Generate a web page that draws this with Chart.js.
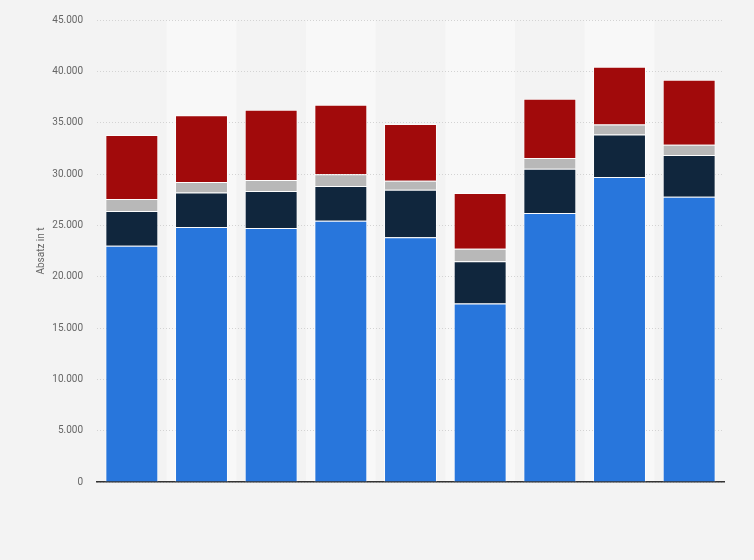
<!DOCTYPE html>
<html>
<head>
<meta charset="utf-8">
<script src="https://cdn.jsdelivr.net/npm/chart.js@4/dist/chart.umd.min.js"></script>
<style>
    html, body { margin: 0; padding: 0; background: #f3f3f3; }
    #wrap { width: 754px; height: 560px; }
</style>
</head>
<body>
<div id="wrap"><canvas id="salesChart" width="754" height="560"></canvas></div>
<script>
// categories (no labels shown in the original)
let categories = ["1", "2", "3", "4", "5", "6", "7", "8", "9"];
// stacked series, in t
let seriesBlue = [23000, 24830, 24730, 25450, 23850, 17380, 26190, 29710, 27790];
let seriesNavy = [3390, 3380, 3610, 3380, 4620, 4130, 4330, 4130, 4070];
let seriesGray = [1170, 1010, 1070, 1140, 880, 1200, 1040, 980, 1000];
let seriesRed = [6250, 6510, 6840, 6770, 5530, 5440, 5760, 5630, 6320];
let yTicks = [0, 5000, 10000, 15000, 20000, 25000, 30000, 35000, 40000, 45000];

function fmt(v) {
    return String(v).replace(/\B(?=(\d{3})+(?!\d))/g, ".");
}

// lighter band behind every second column
let bandPlugin = {
    id: "bands",
    beforeDraw: function(chart) {
        let ctx = chart.ctx;
        let area = chart.chartArea;
        let step = (area.right - area.left) / categories.length;
        ctx.save();
        ctx.fillStyle = "#f8f8f8";
        for (let i = 1; i < categories.length; i += 2) {
            ctx.fillRect(area.left + i * step, area.top, step, area.bottom - area.top);
        }
        ctx.restore();
    }
};

document.addEventListener("DOMContentLoaded", function() {
    let ctx = document.getElementById("salesChart").getContext("2d");
    let border = "rgba(255,255,255,0.75)";
    let salesChart = new Chart(ctx, {
        type: "bar",
        data: {
            labels: categories,
            datasets: [
                { data: seriesBlue, backgroundColor: "#2876dc", borderColor: border, borderWidth: 1 },
                { data: seriesNavy, backgroundColor: "#10263d", borderColor: border, borderWidth: 1 },
                { data: seriesGray, backgroundColor: "#b8b8b8", borderColor: border, borderWidth: 1 },
                { data: seriesRed, backgroundColor: "#a10a0b", borderColor: border, borderWidth: 1 }
            ]
        },
        options: {
            responsive: false,
            maintainAspectRatio: false,
            animation: false,
            layout: { padding: { top: 15, right: 30, bottom: 70, left: 0 } },
            datasets: { bar: { barPercentage: 0.76, categoryPercentage: 1 } },
            plugins: {
                legend: { display: false },
                tooltip: { enabled: false }
            },
            scales: {
                x: {
                    stacked: true,
                    ticks: { display: false },
                    grid: { display: false },
                    border: { display: true, color: "#333333", width: 1.5 }
                },
                y: {
                    stacked: true,
                    min: 0,
                    max: 45000,
                    afterBuildTicks: function(axis) {
                        axis.ticks = yTicks.map(function(v) { return { value: v }; });
                    },
                    afterFit: function(axis) { axis.width = 97; },
                    ticks: {
                        color: "#666666",
                        font: { family: "Roboto", size: 10 },
                        padding: 14,
                        callback: function(v) { return fmt(v); }
                    },
                    grid: {
                        color: "#d3d3d3",
                        drawTicks: false
                    },
                    border: { display: false, dash: [1, 2] },
                    title: {
                        display: true,
                        text: "Absatz in t",
                        color: "#666666",
                        font: { family: "Roboto", size: 10 },
                        padding: { top: 35, bottom: 0 }
                    }
                }
            }
        },
        plugins: [bandPlugin]
    });
});
</script>
</body>
</html>
